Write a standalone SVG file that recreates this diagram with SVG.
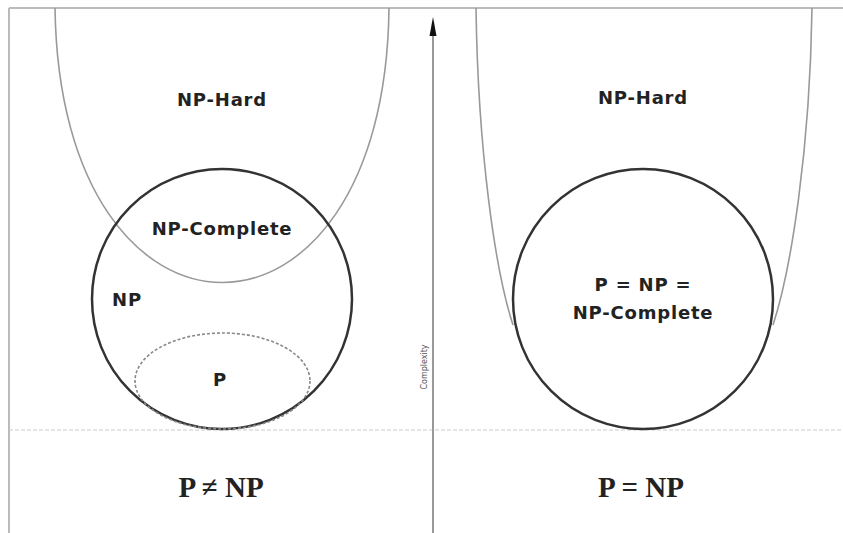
<svg xmlns="http://www.w3.org/2000/svg" width="843" height="533" viewBox="0 0 843 533">
<style>
.lbl{font-family:"DejaVu Sans",Verdana,sans-serif;font-weight:bold;font-size:18px;fill:#222;text-anchor:middle;letter-spacing:0.8px}
.big{font-family:"Liberation Serif","Times New Roman",serif;font-weight:bold;font-size:29px;fill:#222;text-anchor:middle}
.set{fill:none;stroke:#333;stroke-width:2.5}
.hard{fill:none;stroke:#999;stroke-width:1.6}
.frame{fill:none;stroke:#bbb;stroke-width:2}
</style>
<defs>
<marker id="arr" viewBox="0 0 10 10" refX="9" refY="5" markerWidth="10" markerHeight="10" markerUnits="userSpaceOnUse" orient="auto">
<path d="M0,0 L10,5 L0,10 z" fill="#111"/>
</marker>
</defs>
<rect width="843" height="533" fill="#fff"/>
<g id="frame">
<line class="frame" x1="9" y1="8" x2="843" y2="8"/>
<line class="frame" x1="9" y1="8" x2="9" y2="533"/>
<line x1="9" y1="430" x2="843" y2="430" stroke="#ccc" stroke-width="1.2" stroke-dasharray="4 2"/>
</g>
<g id="connectors">
<line x1="433" y1="533" x2="433" y2="36" stroke="#999" stroke-width="2"/>
<path d="M433,17 L436.5,36 L429.5,36 z" fill="#111"/>
<text transform="translate(427,367) rotate(-90)" font-family="DejaVu Sans,sans-serif" font-size="8" fill="#555" text-anchor="middle">Complexity</text>
</g>
<g id="left-nphard">
<path class="hard" d="M55,8 C60,374 385,374 389,8"/>
<text class="lbl" x="222" y="106">NP-Hard</text>
</g>
<g id="left-np">
<circle class="set" cx="222" cy="299" r="130"/>
<text class="lbl" x="222" y="235">NP-Complete</text>
<text class="lbl" x="127" y="306" style="font-weight:bold">NP</text>
</g>
<g id="left-p">
<ellipse cx="222.5" cy="381" rx="87.5" ry="48" fill="none" stroke="#888" stroke-width="1.6" stroke-dasharray="3 2"/>
<text class="lbl" x="220" y="386">P</text>
</g>
<g id="right-nphard">
<path class="hard" d="M476,8 C478,150 495,270 513,325"/>
<path class="hard" d="M812,8 C810,150 791,270 773,325"/>
<text class="lbl" x="643" y="104">NP-Hard</text>
</g>
<g id="right-p-np">
<circle class="set" cx="643" cy="299" r="130" fill="#fff"/>
<text class="lbl" x="643" y="291">P = NP =</text>
<text class="lbl" x="643" y="319">NP-Complete</text>
</g>
<g id="captions">
<text class="big" x="221" y="497">P ≠ NP</text>
<text class="big" x="641" y="497">P = NP</text>
</g>
</svg>
